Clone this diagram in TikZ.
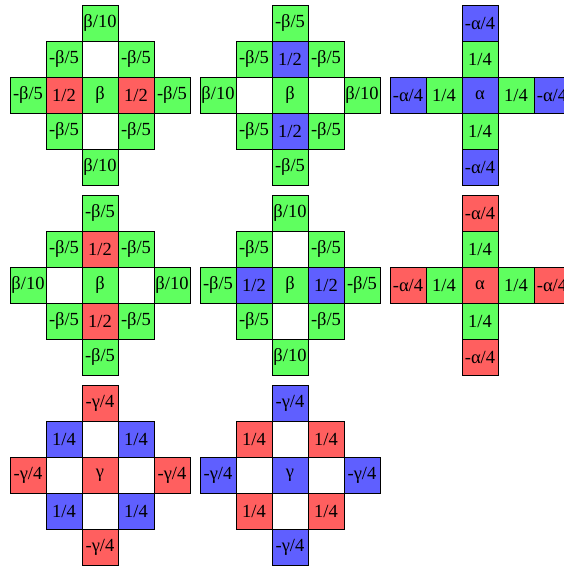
\documentclass[tikz,border=0pt]{standalone}
\usepackage{fontspec}
\setmainfont{Liberation Serif}
\definecolor{cgreen}{HTML}{5FFF5F}
\definecolor{cred}{HTML}{FF5F5F}
\definecolor{cblue}{HTML}{5F5FFF}

% one stencil: name, centre, list of dx/dy/style/text
\newcommand{\stencil}[3]{%
  \begin{scope}[shift={#2}]
    \foreach \dx/\dy/\st/\txt [count=\k] in {#3}
      \node[\st] (#1\k) at (36*\dx,36*\dy) {\txt};
  \end{scope}}

\begin{document}
\begin{tikzpicture}[
  x=1pt, y=-1pt,
  cell/.style={rectangle,draw,line width=0.8pt,minimum size=36pt,inner sep=0pt,
    font=\fontsize{18.5}{20}\selectfont},
  gc/.style={cell,fill=cgreen},
  rc/.style={cell,fill=cred},
  bc/.style={cell,fill=cblue},
  wc/.style={cell,fill=white}
]
\path[use as bounding box,clip] (0,0) rectangle (564,567);

% row 1
\stencil{a}{(100,95)}{0/-2/gc/{β/10}, -1/-1/gc/{-β/5}, 0/-1/wc/{}, 1/-1/gc/{-β/5},
  -2/0/gc/{-β/5}, -1/0/rc/{1/2}, 0/0/gc/{β}, 1/0/rc/{1/2}, 2/0/gc/{-β/5},
  -1/1/gc/{-β/5}, 0/1/wc/{}, 1/1/gc/{-β/5}, 0/2/gc/{β/10}}
\stencil{b}{(290,95)}{0/-2/gc/{-β/5}, -1/-1/gc/{-β/5}, 0/-1/bc/{1/2}, 1/-1/gc/{-β/5},
  -2/0/gc/{β/10}, -1/0/wc/{}, 0/0/gc/{β}, 1/0/wc/{}, 2/0/gc/{β/10},
  -1/1/gc/{-β/5}, 0/1/bc/{1/2}, 1/1/gc/{-β/5}, 0/2/gc/{-β/5}}
\stencil{c}{(480,95)}{0/-2/bc/{-α/4}, 0/-1/gc/{1/4},
  -2/0/bc/{-α/4}, -1/0/gc/{1/4}, 0/0/bc/{α}, 1/0/gc/{1/4}, 2/0/bc/{-α/4},
  0/1/gc/{1/4}, 0/2/bc/{-α/4}}

% row 2
\stencil{d}{(100,285)}{0/-2/gc/{-β/5}, -1/-1/gc/{-β/5}, 0/-1/rc/{1/2}, 1/-1/gc/{-β/5},
  -2/0/gc/{β/10}, -1/0/wc/{}, 0/0/gc/{β}, 1/0/wc/{}, 2/0/gc/{β/10},
  -1/1/gc/{-β/5}, 0/1/rc/{1/2}, 1/1/gc/{-β/5}, 0/2/gc/{-β/5}}
\stencil{e}{(290,285)}{0/-2/gc/{β/10}, -1/-1/gc/{-β/5}, 0/-1/wc/{}, 1/-1/gc/{-β/5},
  -2/0/gc/{-β/5}, -1/0/bc/{1/2}, 0/0/gc/{β}, 1/0/bc/{1/2}, 2/0/gc/{-β/5},
  -1/1/gc/{-β/5}, 0/1/wc/{}, 1/1/gc/{-β/5}, 0/2/gc/{β/10}}
\stencil{f}{(480,285)}{0/-2/rc/{-α/4}, 0/-1/gc/{1/4},
  -2/0/rc/{-α/4}, -1/0/gc/{1/4}, 0/0/rc/{α}, 1/0/gc/{1/4}, 2/0/rc/{-α/4},
  0/1/gc/{1/4}, 0/2/rc/{-α/4}}

% row 3
\stencil{g}{(100,475)}{0/-2/rc/{-γ/4}, -1/-1/bc/{1/4}, 0/-1/wc/{}, 1/-1/bc/{1/4},
  -2/0/rc/{-γ/4}, -1/0/wc/{}, 0/0/rc/{γ}, 1/0/wc/{}, 2/0/rc/{-γ/4},
  -1/1/bc/{1/4}, 0/1/wc/{}, 1/1/bc/{1/4}, 0/2/rc/{-γ/4}}
\stencil{h}{(290,475)}{0/-2/bc/{-γ/4}, -1/-1/rc/{1/4}, 0/-1/wc/{}, 1/-1/rc/{1/4},
  -2/0/bc/{-γ/4}, -1/0/wc/{}, 0/0/bc/{γ}, 1/0/wc/{}, 2/0/bc/{-γ/4},
  -1/1/rc/{1/4}, 0/1/wc/{}, 1/1/rc/{1/4}, 0/2/bc/{-γ/4}}
\end{tikzpicture}
\end{document}
